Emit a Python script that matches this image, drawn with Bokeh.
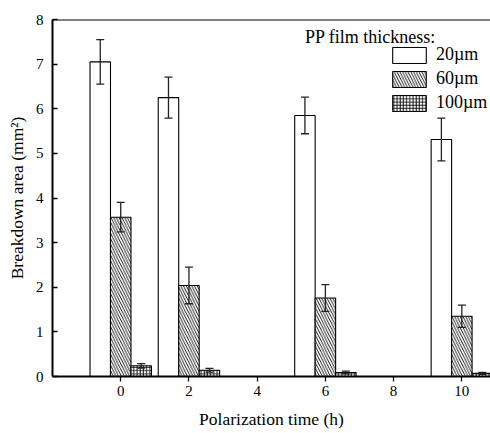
from bokeh.plotting import figure
from bokeh.models import (ColumnDataSource, Whisker, TeeHead, Legend, LegendItem,
                          Span, Label, FixedTicker, Range1d)
from bokeh.transform import dodge
from bokeh.embed import file_html
from bokeh.resources import INLINE

# ---- data ----
times = [0, 2, 6, 10]
v20 = [7.05, 6.25, 5.85, 5.31]
e20 = [0.50, 0.46, 0.41, 0.48]
v60 = [3.57, 2.04, 1.76, 1.35]
e60 = [0.33, 0.41, 0.30, 0.25]
v100 = [0.24, 0.14, 0.09, 0.07]
e100 = [0.05, 0.04, 0.03, 0.02]
x_ticks = [0, 2, 4, 6, 8, 10]
y_ticks = [0, 1, 2, 3, 4, 5, 6, 7, 8]
series_labels = ["20\u00b5m", "60\u00b5m", "100\u00b5m"]
legend_title = "PP film thickness:"
x_title = "Polarization time (h)"
y_title = "Breakdown area (mm\u00b2)"

FONT = "Liberation Serif"
BAR_W = 0.6
OFFS = [-0.6, 0.0, 0.6]

p = figure(width=490, height=433, output_backend="svg", toolbar_location=None,
           x_range=Range1d(-2, 10.84), y_range=Range1d(0, 8),
           min_border_left=52, min_border_right=0, min_border_top=19,
           min_border_bottom=57)
p.outline_line_color = None
p.background_fill_color = "white"
p.border_fill_color = "white"
p.xgrid.visible = False
p.ygrid.visible = False

vals = [v20, v60, v100]
errs = [e20, e60, e100]
hatches = [None, "\\", "+"]
hscales = [6, 5.5, 3.2]
renderers = []
for vs, es, off, h, hs in zip(vals, errs, OFFS, hatches, hscales):
    src = ColumnDataSource(dict(
        x=times, top=vs,
        xb=[t + off for t in times],
        up=[v + e for v, e in zip(vs, es)],
        lo=[v - e for v, e in zip(vs, es)]))
    kw = {}
    if h:
        kw = dict(hatch_pattern=h, hatch_color="black", hatch_scale=hs, hatch_weight=0.9)
    r = p.vbar(x=dodge("x", off, range=p.x_range), top="top", width=BAR_W, source=src,
               fill_color="white", line_color="black", line_width=1.1, **kw)
    renderers.append(r)
    w = Whisker(source=src, base="xb", upper="up", lower="lo", dimension="height",
                level="overlay", line_color="#222222", line_width=1.3,
                upper_head=TeeHead(size=8, line_color="#222222", line_width=1.3),
                lower_head=TeeHead(size=8, line_color="#222222", line_width=1.3))
    p.add_layout(w)

# top border line
p.add_layout(Span(location=8, dimension="width", line_color="black", line_width=2))

# axes
p.xaxis.ticker = FixedTicker(ticks=x_ticks)
p.yaxis.ticker = FixedTicker(ticks=y_ticks)
for ax in (p.xaxis, p.yaxis):
    ax.axis_line_width = 2
    ax.axis_line_color = "black"
    ax.major_tick_line_color = "black"
    ax.major_tick_line_width = 1.3
    ax.minor_tick_line_color = None
    ax.major_label_text_font = FONT
    ax.major_label_text_font_size = "15px"
    ax.major_label_text_color = "black"
    ax.axis_label_text_font = FONT
    ax.axis_label_text_font_size = "17.5px"
    ax.axis_label_text_font_style = "normal"
    ax.axis_label_text_color = "black"
p.xaxis.major_tick_in = 0
p.xaxis.major_tick_out = 5
p.xaxis.major_label_standoff = 4
p.xaxis.axis_label = x_title
p.xaxis.axis_label_standoff = 10
p.yaxis.major_tick_in = 5
p.yaxis.major_tick_out = 0
p.yaxis.major_label_standoff = 9
p.yaxis.axis_label = y_title
p.yaxis.axis_label_standoff = 6

# legend
items = [LegendItem(label=lab, renderers=[r]) for lab, r in zip(series_labels, renderers)]
leg = Legend(items=items, location=(336, 263), orientation="vertical",
             glyph_width=42, glyph_height=20, label_height=20, spacing=3,
             padding=0, margin=0, label_standoff=6,
             border_line_color=None, background_fill_alpha=0,
             label_text_font=FONT, label_text_font_size="18px", label_text_color="black")
p.add_layout(leg)
p.add_layout(Label(x=7.32, y=7.6, text=legend_title, text_align="center",
                   text_baseline="alphabetic", text_font=FONT, text_font_size="18px",
                   text_color="black"))

open("out.html", "w").write(file_html(p, INLINE))
